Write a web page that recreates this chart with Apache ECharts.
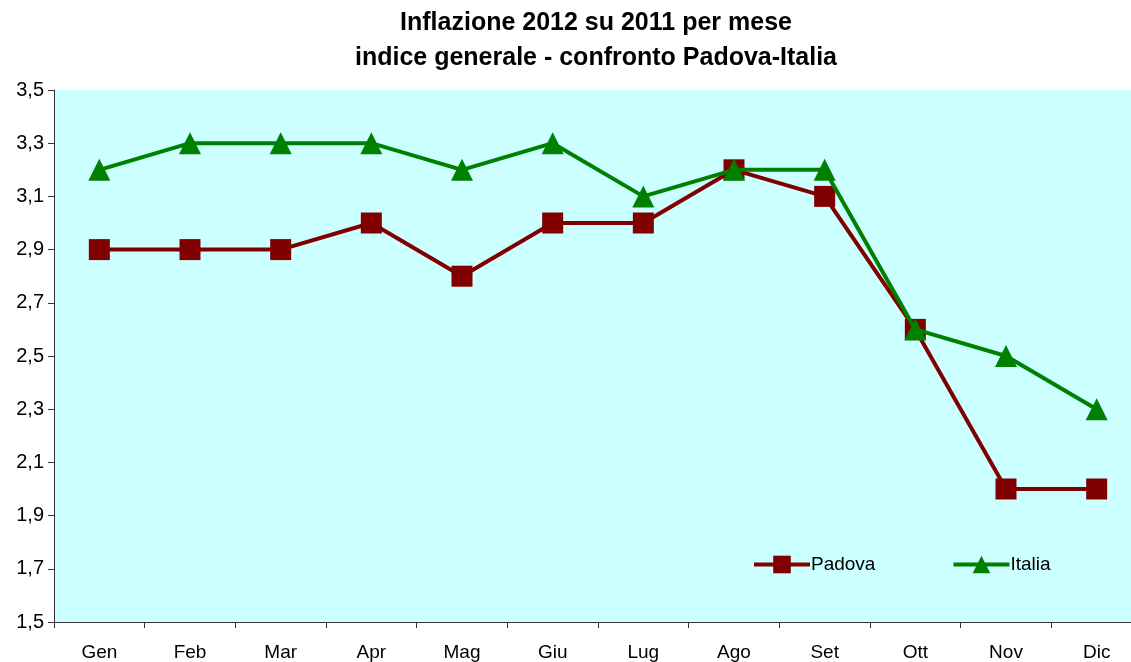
<!DOCTYPE html>
<html><head><meta charset="utf-8">
<script src="https://cdn.jsdelivr.net/npm/echarts@6/dist/echarts.min.js"></script>
<style>html,body{margin:0;padding:0;background:#fff;overflow:hidden}#c{width:1142px;height:662px}</style>
</head><body><div id="c"></div>
<script>
const categories = ['Gen','Feb','Mar','Apr','Mag','Giu','Lug','Ago','Set','Ott','Nov','Dic'];
const padova = [2.9,2.9,2.9,3.0,2.8,3.0,3.0,3.2,3.1,2.6,2.0,2.0];
const italia = [3.2,3.3,3.3,3.3,3.2,3.3,3.1,3.2,3.2,2.6,2.5,2.3];
const chart = echarts.init(document.getElementById('c'));
const ff = '"Liberation Sans", Arial, sans-serif';
chart.setOption({
  animation: false,
  title: {
    text: 'Inflazione 2012 su 2011 per mese\nindice generale - confronto Padova-Italia',
    left: 591, textAlign: 'center', top: 1,
    textStyle: {fontFamily: ff, fontSize: 25, fontWeight: 'bold', color: '#000', lineHeight: 35}
  },
  legend: {
    left: 747, top: 550, itemGap: 76, itemWidth: 56, itemHeight: 22,
    textStyle: {fontFamily: ff, fontSize: 19, color: '#000', padding: [0,0,0,-4]},
    lineStyle: {width: 4},
    data: ['Padova','Italia']
  },
  grid: {left: 54, right: 0, top: 90, bottom: 40, show: true, backgroundColor: '#CCFFFF', borderWidth: 0},
  xAxis: {
    type: 'category', data: categories, boundaryGap: true,
    axisLine: {lineStyle: {color: '#333', width: 1}},
    axisTick: {show: true, length: 6, lineStyle: {color: '#333'}},
    axisLabel: {fontFamily: ff, fontSize: 19, color: '#000', margin: 21}
  },
  yAxis: {
    type: 'value', min: 1.5, max: 3.5, interval: 0.2,
    splitLine: {show: false},
    axisLine: {show: true, lineStyle: {color: '#333', width: 1}},
    axisTick: {show: true, length: 6, lineStyle: {color: '#333'}},
    axisLabel: {fontFamily: ff, fontSize: 20, color: '#000', margin: 10,
      formatter: v => v.toFixed(1).replace('.', ',')}
  },
  series: [
    {name: 'Padova', type: 'line', data: padova, symbol: 'rect', symbolSize: 21,
     itemStyle: {color: '#800000'}, lineStyle: {color: '#800000', width: 4}, z: 2},
    {name: 'Italia', type: 'line', data: italia, symbol: 'triangle', symbolSize: 22,
     itemStyle: {color: '#008000'}, lineStyle: {color: '#008000', width: 4}, z: 3}
  ]
});
</script></body></html>
